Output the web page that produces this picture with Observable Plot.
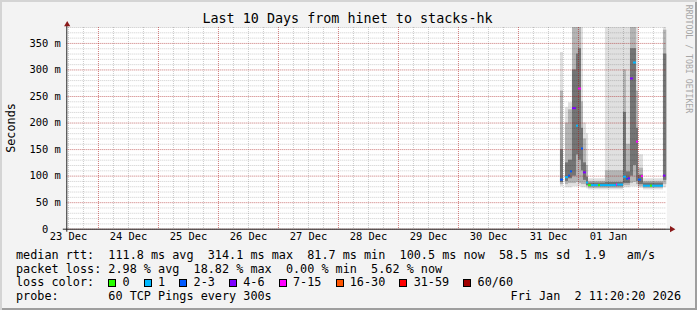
<!DOCTYPE html>
<html><head><meta charset="utf-8">
<script src="https://cdn.jsdelivr.net/npm/d3@7"></script>
<script src="https://cdn.jsdelivr.net/npm/@observablehq/plot@0.6"></script>
<style>
html,body{margin:0;padding:0;background:#fff;}
#wrap{position:relative;width:697px;height:310px;background:#f3f3f3;overflow:hidden;
  box-shadow: inset 2px 2px 0 #d4d4d4, inset -2px -2px 0 #9e9e9e;
  font-family:"DejaVu Sans Mono",monospace;color:#000;}
#wrap svg{position:absolute;left:0;top:0;}
.t{position:absolute;white-space:pre;line-height:14px;}
.leg{font-size:11.8px;left:16px;}
.box{display:inline-block;width:8px;height:8px;box-sizing:border-box;border:1px solid #000;margin-right:6.2px;vertical-align:-0.5px;}
</style>
</head><body>
<div id="wrap"></div>
<script>
// ---------- data ----------
const title = "Last 10 Days from hinet to stacks-hk";
const yLabel = "Seconds";
const xDomain = ["2025-12-23T11:20", "2026-01-02T11:20"];
const yDomain = [0, 380];
const yTicks = [50, 100, 150, 200, 250, 300, 350];
const yZeroTick = [0];
const dayTicks = ["2025-12-23T12:00","2025-12-24T12:00","2025-12-25T12:00","2025-12-26T12:00","2025-12-27T12:00",
                  "2025-12-28T12:00","2025-12-29T12:00","2025-12-30T12:00","2025-12-31T12:00","2026-01-01T12:00"];
const dayLabels = ["23 Dec","24 Dec","25 Dec","26 Dec","27 Dec","28 Dec","29 Dec","30 Dec","31 Dec","01 Jan"];

// smoke (ping distribution) per column, ms
const smokeStart = ["2025-12-31T16:48","2025-12-31T18:48","2025-12-31T20:00","2025-12-31T21:36","2025-12-31T23:12",
  "2026-01-01T00:00","2026-01-01T01:12","2026-01-01T02:00","2026-01-01T03:12","2026-01-01T04:00","2026-01-01T10:48",
  "2026-01-01T18:00","2026-01-01T19:12","2026-01-01T20:48","2026-01-01T22:00","2026-01-01T23:12","2026-01-02T00:00",
  "2026-01-02T02:00","2026-01-02T10:00"];
const smokeEnd = ["2025-12-31T18:00","2025-12-31T20:00","2025-12-31T21:36","2025-12-31T23:12","2026-01-01T00:00",
  "2026-01-01T01:12","2026-01-01T02:00","2026-01-01T03:12","2026-01-01T04:00","2026-01-01T10:48","2026-01-01T18:00",
  "2026-01-01T19:12","2026-01-01T20:48","2026-01-01T22:00","2026-01-01T23:12","2026-01-02T00:00","2026-01-02T02:00",
  "2026-01-02T10:00","2026-01-02T11:20"];
const smokeMin   = [80, 78, 78, 80, 80, 80, 78, 78, 76, 74, 74, 78, 78, 80, 80, 80, 77, 74, 78];
const smokeMax   = [333,229,238,380,380,380,380,200,180, 95,380,380,380,380,380,380,140, 95,380];
const smokeMidLo = [84, 84, 86, 86, 88, 86, 84, 84, 80, 77, 77, 82, 82, 86, 88, 84, 80, 77, 84];
const smokeMidHi = [260,200,225,380,380,380,240,170,120, 90,110,300,160,380,380,260,115, 90,375];
const smokeDkLo  = [88, 90, 95,100,140,130,110, 92, 82, 80, 80, 86, 86,100,120, 90, 84, 80, 92];
const smokeDkHi  = [150,125,130,300,330,340,190,125, 98, 87, 88,220,108,340,340,190,102, 87,330];

// median rtt segments (ms) and lost pings (of 60)
const medStart = ["2025-12-31T16:48","2025-12-31T18:48","2025-12-31T20:00","2025-12-31T20:48","2025-12-31T21:36",
  "2025-12-31T23:12","2026-01-01T00:00","2026-01-01T01:12","2026-01-01T02:00","2026-01-01T03:12","2026-01-01T04:00",
  "2026-01-01T05:12","2026-01-01T08:00","2026-01-01T08:48","2026-01-01T15:12","2026-01-01T15:36","2026-01-01T18:00",
  "2026-01-01T19:12","2026-01-01T20:00","2026-01-01T20:48","2026-01-01T22:00","2026-01-01T23:12","2026-01-02T00:00",
  "2026-01-02T01:12","2026-01-02T02:00","2026-01-02T04:48","2026-01-02T05:36","2026-01-02T10:00"];
const medEnd = ["2025-12-31T18:00","2025-12-31T20:00","2025-12-31T20:48","2025-12-31T21:36","2025-12-31T23:12",
  "2026-01-01T00:00","2026-01-01T01:12","2026-01-01T02:00","2026-01-01T03:12","2026-01-01T04:00","2026-01-01T05:12",
  "2026-01-01T08:00","2026-01-01T08:48","2026-01-01T15:12","2026-01-01T15:36","2026-01-01T18:00","2026-01-01T19:12",
  "2026-01-01T20:00","2026-01-01T20:48","2026-01-01T22:00","2026-01-01T23:12","2026-01-02T00:00","2026-01-02T01:12",
  "2026-01-02T02:00","2026-01-02T04:48","2026-01-02T05:36","2026-01-02T10:00","2026-01-02T11:00"];
const medMs   = [93.5, 98, 101, 109, 228, 195, 265, 152, 107, 88, 83, 83, 83, 83, 84, 84, 99, 95, 96, 284, 314, 165, 93.5, 100, 82, 82, 82, 101];
const medLoss = [2, 1, 2, 3, 5, 1, 10, 2, 5, 1, 0, 1, 0, 1, 8, 1, 1, 2, 4, 5, 1, 8, 2, 9, 1, 0, 1, 4];

const lossLabels = ["0","1","2-3","4-6","7-15","16-30","31-59","60/60"];
const lossColors = ["#26ff00","#00b8ff","#0059ff","#7e00ff","#ff00ff","#ff5500","#ff0000","#a10000"];

const statsRtt  = "median rtt:  111.8 ms avg  314.1 ms max  81.7 ms min  100.5 ms now  58.5 ms sd  1.9   am/s";
const statsLoss = "packet loss: 2.98 % avg  18.82 % max  0.00 % min  5.62 % now";
const probeText = "probe:       60 TCP Pings every 300s";
const dateText  = "Fri Jan  2 11:20:20 2026";
const watermark = "RRDTOOL / TOBI OETIKER";

// ---------- build ----------
const T = s => new Date(s + "Z");
const lossCat = n => n === 0 ? "0" : n === 1 ? "1" : n <= 3 ? "2-3" : n <= 6 ? "4-6" : n <= 15 ? "7-15" : n <= 30 ? "16-30" : n < 60 ? "31-59" : "60/60";

const smoke = smokeStart.map((s, i) => ({t0: T(s), t1: T(smokeEnd[i]), lo: smokeMin[i], hi: smokeMax[i],
  mlo: smokeMidLo[i], mhi: smokeMidHi[i], dlo: smokeDkLo[i], dhi: smokeDkHi[i]}));
const med = medStart.map((s, i) => ({t0: T(s), t1: T(medEnd[i]), v: medMs[i], cat: lossCat(medLoss[i])}));
const xStart = T(xDomain[0]);

const plot = Plot.plot({
  width: 697, height: 246,
  marginLeft: 66.3, marginRight: 30.7, marginTop: 27, marginBottom: 17.3,
  style: {fontFamily: "DejaVu Sans Mono, monospace", fontSize: "10.4px", color: "#000", background: "transparent", overflow: "visible"},
  x: {type: "utc", domain: xDomain.map(T)},
  y: {domain: yDomain},
  color: {domain: lossLabels, range: lossColors},
  marks: [
    Plot.frame({fill: "white", stroke: "none"}),
    Plot.rectY(smoke, {x1: "t0", x2: "t1", y1: "lo", y2: "hi", fill: "#e0e0e0"}),
    Plot.rectY(smoke, {x1: "t0", x2: "t1", y1: "mlo", y2: "mhi", fill: "#b4b4b4"}),
    Plot.rectY(smoke, {x1: "t0", x2: "t1", y1: "dlo", y2: "dhi", fill: "#747474"}),
    Plot.gridY({interval: 10, stroke: "#000", strokeOpacity: 0.2, strokeDasharray: "1,1"}),
    Plot.gridX({interval: d3.utcHour.every(6), stroke: "#000", strokeOpacity: 0.2, strokeDasharray: "1,1"}),
    Plot.gridY({interval: 50, stroke: "#e01010", strokeOpacity: 0.4, strokeDasharray: "1,1"}),
    Plot.gridX({interval: d3.utcDay, stroke: "#e01010", strokeOpacity: 0.4, strokeDasharray: "1,1"}),
    Plot.ruleY(med, {x1: "t0", x2: "t1", y: "v", stroke: "cat", strokeWidth: 2}),
    Plot.ruleY([0], {stroke: "#222", insetLeft: -3.5, insetRight: -4}),
    Plot.ruleX([xStart], {stroke: "#222", insetTop: -3, insetBottom: -3}),
    Plot.dot([0], {frameAnchor: "top-left", symbol: "triangle", r: 2.3, fill: "#8b1a1a", stroke: "none", dx: 0.4, dy: -3}),
    Plot.dot([0], {frameAnchor: "bottom-right", symbol: "triangle", r: 2.3, fill: "#8b1a1a", stroke: "none", rotate: 90, dx: 5, dy: 0}),
    Plot.axisY({ticks: yTicks, tickFormat: d => `${d} m`, tickSize: 0, tickPadding: 6, label: null}),
    Plot.axisY({ticks: yZeroTick, tickFormat: d => `${d}`, tickSize: 0, tickPadding: 18.5, label: null}),
    Plot.axisX({ticks: dayTicks.map(T), tickFormat: (d, i) => dayLabels[i], tickSize: 0, tickPadding: 3, label: null})
  ]
});

const wrap = document.getElementById("wrap");
wrap.appendChild(plot);

function addText(txt, css, cls) {
  const d = document.createElement("div");
  d.className = "t " + (cls || "");
  d.textContent = txt;
  Object.assign(d.style, css);
  wrap.appendChild(d);
  return d;
}
addText(title, {left: "347.5px", top: "19px", fontSize: "13.4px", transform: "translate(-50%,-50%)"});
addText(yLabel, {left: "10.5px", top: "128px", fontSize: "11.8px", transform: "translate(-50%,-50%) rotate(-90deg)"});
addText(watermark, {left: "689px", top: "58.5px", fontSize: "8.2px", color: "#a6a6a6", transform: "translate(-50%,-50%) rotate(90deg)"});
addText(statsRtt, {top: "248px"}, "leg");
addText(statsLoss, {top: "261.5px"}, "leg");
const lc = addText("loss color:  ", {top: "275px"}, "leg");
lossLabels.forEach((lab, i) => {
  const b = document.createElement("span");
  b.className = "box";
  b.style.background = lossColors[i];
  lc.appendChild(b);
  lc.appendChild(document.createTextNode(lab + (i < lossLabels.length - 1 ? "  " : "")));
});
addText(probeText, {top: "288.5px"}, "leg");
addText(dateText, {top: "288.5px", left: "auto", right: "16px", fontSize: "11.8px"});
</script>
</body></html>
